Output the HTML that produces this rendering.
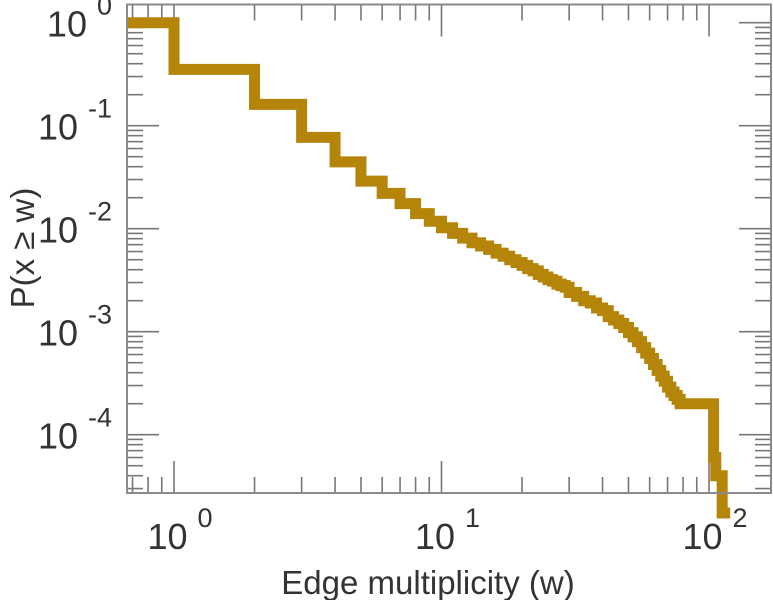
<!DOCTYPE html>
<html><head><meta charset="utf-8"><style>
html,body{margin:0;padding:0;background:#fff;}
svg{display:block;font-family:"Liberation Sans",Arial,sans-serif;}
</style></head><body>
<svg id="chart" width="773" height="600" viewBox="0 0 773 600">
<g id="ticks"></g>
<path id="series" fill="none" stroke="#b5850a" stroke-width="11" stroke-linejoin="miter" stroke-linecap="butt"></path>
<rect x="127" y="4.5" width="644" height="488.5" fill="none" stroke="#8a8a8a" stroke-width="2"></rect>
<g id="labels" fill="#333"></g>
<text x="428" y="594" font-size="33" text-anchor="middle" fill="#333">Edge multiplicity (w)</text>
<text transform="translate(34,248) rotate(-90)" font-size="33" text-anchor="middle" fill="#333">P(x ≥ w)</text>
</svg>
<script>
const ws = [1,2,3,4,5,6,7,8,9,10,11,12,13,14,15,16,17,18,19,20,21,22,23,24,25,26,27,28,29,30,32,34,36,38,40,42,44,46,48,50,52,54,56,58,60,62,64,66,68,70,72,74,76,78,80,104,106,112,120];
const ps = [1,0.352,0.161,0.077,0.0445,0.029,0.022,0.0175,0.014,0.0118,0.0102,0.0090,0.0081,0.0073,0.0068,0.0063,0.0058,0.0054,0.0050,0.0047,0.0044,0.0041,0.0039,0.0036,0.0034,0.0032,0.0031,0.0029,0.0028,0.0027,0.0024,0.0022,0.0020,0.0019,0.0017,0.0016,0.0014,0.0013,0.0012,0.0011,0.00098,0.00089,0.0008,0.0007,0.00062,0.00055,0.00048,0.00042,0.00037,0.00033,0.00029,0.00026,0.00024,0.00022,0.0002,0.0002,0.00006,0.00004,0.00001];
const xMajor = [0,1,2];
const yMajor = [0,-1,-2,-3,-4];

const L=127,R=771,T=4.5,B=493;
const x0=174,dx=267.5,y0=22.7,dy=103;
function X(w){return x0+Math.log10(w)*dx;}
function Y(p){return y0-Math.log10(p)*dy;}
const ns="http://www.w3.org/2000/svg";

let d="M"+L+","+Y(ps[0]);
for(let i=0;i<ws.length;i++){
  d+=" H"+X(ws[i]).toFixed(2);
  if(i+1<ws.length) d+=" V"+Math.min(Y(ps[i+1]),B+20).toFixed(2);
}
document.getElementById('series').setAttribute('d',d);

const tg=document.getElementById('ticks');
function line(x1,y1,x2,y2){
  const l=document.createElementNS(ns,'line');
  l.setAttribute('x1',x1);l.setAttribute('y1',y1);l.setAttribute('x2',x2);l.setAttribute('y2',y2);
  l.setAttribute('stroke','#777');l.setAttribute('stroke-width','1.6');
  
  
  tg.appendChild(l);
}
for(let e=-1;e<=2;e++){
  for(let m=1;m<=9;m++){
    const x=X(m*Math.pow(10,e));
    if(x<L+1||x>R-1) continue;
    const len=m===1?32:16;
    line(x,B,x,B-len);line(x,T,x,T+len);
  }
}
for(let e=-5;e<=0;e++){
  for(let m=1;m<=9;m++){
    const y=Y(m*Math.pow(10,e));
    if(y<T+1||y>B-1) continue;
    const len=m===1?32:16;
    line(L,y,L+len,y);line(R,y,R-len,y);
  }
}
const lg=document.getElementById('labels');
function lab(x,y,e,anchor,name){
  const t=document.createElementNS(ns,'text');
  t.setAttribute('x',x);t.setAttribute('y',y);t.setAttribute('font-size','36');
  t.setAttribute('text-anchor',anchor);
  
  
  t.innerHTML='10<tspan font-size="27" dx="10" dy="-22">'+e+'</tspan>';
  lg.appendChild(t);
}
xMajor.forEach(e=>lab(X(Math.pow(10,e))+6,549,e,'middle','x-tick-label'));
yMajor.forEach(e=>lab(112,Y(Math.pow(10,e))+14,e,'end','y-tick-label'));
</script>
</body></html>
